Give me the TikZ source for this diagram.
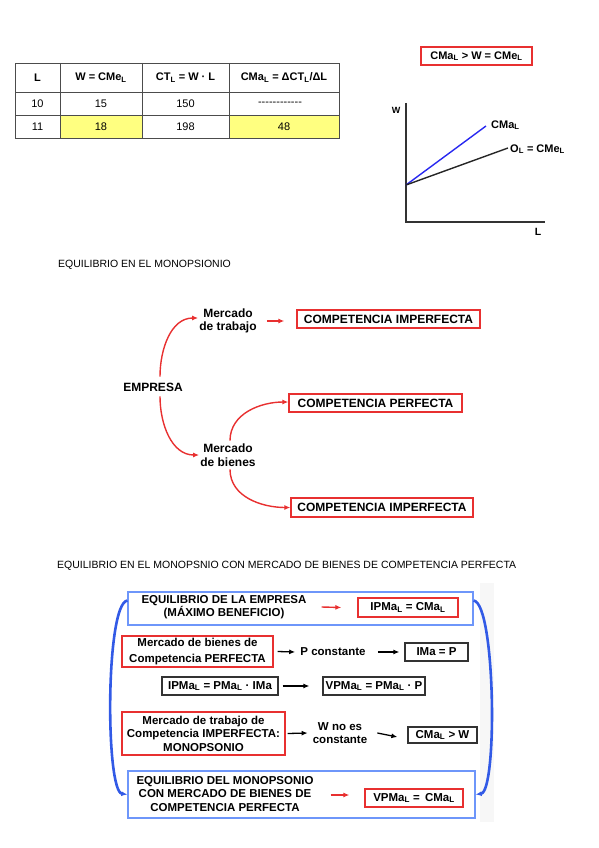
\documentclass[tikz,border=0pt]{standalone}
\usepackage{fontspec}
\setmainfont{Liberation Sans}
\usetikzlibrary{arrows.meta}
\definecolor{boxred}{RGB}{232,48,48}
\definecolor{boxblue}{RGB}{110,150,250}
\definecolor{arrblue}{RGB}{50,90,230}
\definecolor{lineblue}{RGB}{40,40,240}
\definecolor{cellyellow}{RGB}{255,255,128}
\newcommand{\Ls}{\textsubscript{L}}
\newcommand{\nodata}{-{}-{}-{}-{}-{}-{}-{}-{}-{}-{}-{}-}
\begin{document}
\begin{tikzpicture}[x=1pt,y=-1pt,>={Latex[length=6pt,width=5pt]},
  lbl/.style={font=\fontsize{11.5}{13.5}\selectfont\bfseries,align=center,inner sep=0pt},
  mid/.style={lbl,font=\fontsize{12}{13.5}\selectfont\bfseries},
  rbox/.style={lbl,draw=boxred,line width=1.3pt,minimum height=18pt},
  kbox/.style={lbl,draw=black!80,line width=1.2pt,minimum height=18pt},
  bbox/.style={draw=boxblue,line width=1.2pt},
  rarr/.style={->,draw=boxred,line width=1.4pt},
  karr/.style={->,line width=1.3pt},
  barr/.style={->,draw=arrblue,line width=2.6pt},
  cell/.style={font=\fontsize{11}{13}\selectfont,inner sep=0pt},
  hcell/.style={cell,font=\fontsize{11}{13}\selectfont\bfseries},
  title/.style={font=\fontsize{10.5}{12}\selectfont,anchor=west,inner sep=0pt}]
\useasboundingbox (0,0) rectangle (599,848);
%table
\fill[cellyellow] (60,115) rectangle (142,138);
\fill[cellyellow] (229,115) rectangle (339,138);
\draw[black!70,line width=0.9pt] (15,63) rectangle (339,138);
\foreach \x in {60,142,229} \draw[black!70,line width=0.9pt] (\x,63) -- (\x,138);
\foreach \y in {92,115} \draw[black!70,line width=0.9pt] (15,\y) -- (339,\y);
\node[hcell] (hL) at (37.5,77.5) {L};
\node[hcell] (hW) at (101,77.5) {W = CMe\Ls};
\node[hcell] (hCT) at (185.5,77.5) {CT\Ls{} = W · L};
\node[hcell] (hCMa) at (284,77.5) {CMa\Ls{} = ΔCT\Ls/ΔL};
\node[cell] (l1) at (37.5,103.5) {10};
\node[cell] (w1) at (101,103.5) {15};
\node[cell] (ct1) at (185.5,103.5) {150};
\node[cell] (cma1) at (280,103.5) {\nodata};
\node[cell] (l2) at (37.5,126.5) {11};
\node[cell] (w2) at (101,126.5) {18};
\node[cell] (ct2) at (185.5,126.5) {198};
\node[cell] (cma2) at (284,126.5) {48};
%graph
\node[rbox,font=\fontsize{11}{13}\selectfont\bfseries,minimum width=111pt] (cond) at (476.5,56) {CMa\Ls{} > W = CMe\Ls};
\coordinate (top) at (406,103);
\coordinate (o) at (406,222);
\coordinate (right) at (545,222);
\coordinate (w0) at (406,185);
\draw[black!80,line width=1.1pt] (top) -- (o) -- (right);
\node[lbl,font=\fontsize{9}{10}\selectfont\bfseries] (wax) at (396,110) {W};
\node[lbl,font=\fontsize{10.5}{12}\selectfont\bfseries] (lax) at (538,232) {L};
\node[lbl,font=\fontsize{11}{12}\selectfont\bfseries,anchor=west] (cmalbl) at (491,125) {CMa\Ls};
\node[lbl,font=\fontsize{11}{12}\selectfont\bfseries,anchor=west] (ollbl) at (510,149) {O\Ls{} = CMe\Ls};
\draw[lineblue,line width=1.4pt] (w0) -- ([xshift=-5pt,yshift=-1pt]cmalbl.west);
\draw[black!85,line width=1.4pt] (w0) -- ([xshift=-2pt,yshift=1pt]ollbl.west);
%monopsonio
\node[title] (t1) at (58,265) {EQUILIBRIO EN EL MONOPSIONIO};
\node[mid] (emp) at (153,387) {EMPRESA};
\node[mid] (mtrab) at (228,321) {Mercado\\de trabajo};
\node[mid] (mbien) at (228,455) {Mercado\\de bienes};
\node[rbox,mid,draw=boxred,line width=1.3pt,minimum width=183pt,minimum height=18pt] (ci1) at (388.5,319) {COMPETENCIA IMPERFECTA};
\node[rbox,mid,draw=boxred,line width=1.3pt,minimum width=173pt,minimum height=18pt] (cp) at (375.5,403) {COMPETENCIA PERFECTA};
\node[rbox,mid,draw=boxred,line width=1.3pt,minimum width=182pt,minimum height=19pt] (ci2) at (382,507.5) {COMPETENCIA IMPERFECTA};
\draw[rarr] ([xshift=7pt,yshift=6pt]emp.north) to[out=90,in=180] ([xshift=-1pt,yshift=3pt]mtrab.west);
\draw[rarr] ([xshift=7pt,yshift=-5pt]emp.south) to[out=-90,in=180] ([xshift=-1pt]mbien.west);
\draw[rarr] ([xshift=10pt]mtrab.east) -- ([xshift=-12pt,yshift=-2pt]ci1.west);
\draw[rarr] ([xshift=2pt,yshift=3pt]mbien.north) to[out=90,in=180] ([yshift=1pt]cp.west);
\draw[rarr] ([xshift=2pt,yshift=-3pt]mbien.south) to[out=-90,in=180] (ci2.west);
%monopsonio y bienes
\node[title] (t2) at (57,566) {EQUILIBRIO EN EL MONOPSNIO CON MERCADO DE BIENES DE COMPETENCIA PERFECTA};
\fill[black!3] (480,583) rectangle (494,822);
\node[bbox,minimum width=345pt,minimum height=33pt] (b1) at (300.5,608.5) {};
\node[lbl] (eq1) at (224,607) {EQUILIBRIO DE LA EMPRESA\\(MÁXIMO BENEFICIO)};
\node[rbox,minimum width=100pt,minimum height=19pt] (ipm) at (408,607.5) {IPMa\Ls{} = CMa\Ls};
\draw[rarr] ([xshift=15pt]eq1.east) -- ([xshift=-16pt]ipm.west);
\node[rbox,font=\fontsize{11.5}{15.5}\selectfont\bfseries,minimum width=151pt,minimum height=31pt] (mbc) at (197.5,651.5) {Mercado de bienes de\\Competencia PERFECTA};
\node[lbl] (pc) at (333,652) {P constante};
\node[kbox,minimum width=63pt] (ima) at (436.5,652) {IMa = P};
\draw[karr] ([xshift=4pt]mbc.east) -- ([xshift=-5pt]pc.west);
\draw[karr] ([xshift=12pt]pc.east) -- ([xshift=-5pt]ima.west);
\node[kbox,minimum width=116pt] (ipp) at (220,686) {IPMa\Ls{} = PMa\Ls{} · IMa};
\node[kbox,minimum width=102pt] (vpp) at (374,686) {VPMa\Ls{} = PMa\Ls{} · P};
\draw[karr] ([xshift=4pt]ipp.east) -- ([xshift=-13pt]vpp.west);
\node[rbox,minimum width=163pt,minimum height=43pt] (mtc) at (203.5,733.5) {Mercado de trabajo de\\Competencia IMPERFECTA:\\MONOPSONIO};
\node[lbl] (wno) at (340,733) {W no es\\constante};
\node[kbox,minimum width=69pt,minimum height=16pt] (cmw) at (442.5,735) {CMa\Ls{} > W};
\draw[karr] ([xshift=2pt]mtc.east) -- ([xshift=-5pt]wno.west);
\draw[karr] ([xshift=10pt]wno.east) -- ([xshift=-10pt,yshift=-2pt]cmw.west);
\node[bbox,minimum width=347pt,minimum height=47pt] (b2) at (301.5,794.5) {};
\node[lbl] (eq2) at (225,794) {EQUILIBRIO DEL MONOPSONIO\\CON MERCADO DE BIENES DE\\COMPETENCIA PERFECTA};
\node[rbox,minimum width=98pt] (vpc) at (414,798) {VPMa\Ls{} = \,CMa\Ls};
\draw[rarr] ([xshift=17pt,yshift=-1pt]eq2.east) -- ([xshift=-15pt,yshift=3pt]vpc.west);
\draw[barr] ([yshift=8pt]b1.west) .. controls +(-22,3) and +(-22,-3) .. (b2.west);
\draw[barr] ([yshift=8pt]b1.east) .. controls +(22,3) and +(22,-3) .. (b2.east);
\end{tikzpicture}
\end{document}
